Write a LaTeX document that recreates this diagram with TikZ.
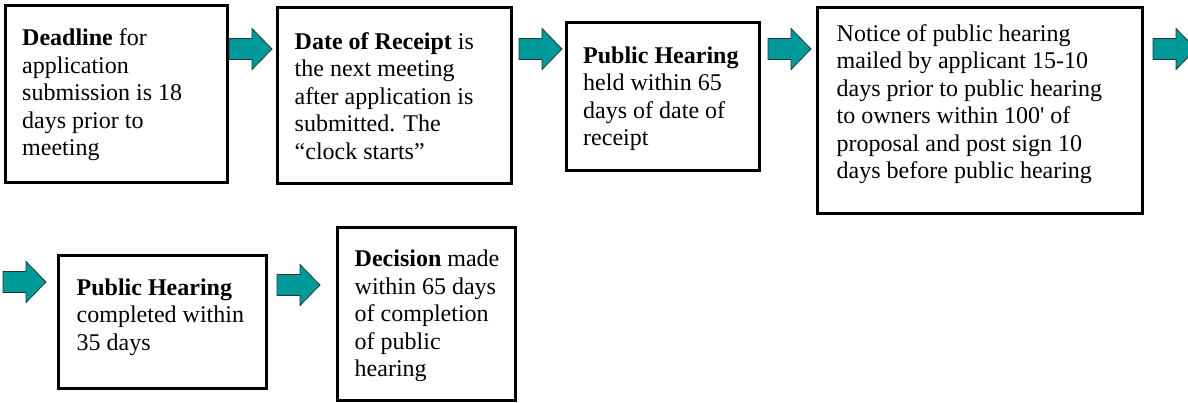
\documentclass[tikz,border=0pt]{standalone}
\usepackage{fontspec}
\setmainfont{Liberation Serif}
\definecolor{arrowfill}{RGB}{0,153,153}
\definecolor{arrowline}{RGB}{35,55,55}
\tikzset{
  box/.style={draw=black, line width=3pt, rectangle, inner sep=0pt, outer sep=0pt},
  txt/.style={align=left, inner sep=0pt, anchor=west,
    font=\fontsize{24}{27.5}\selectfont},
  blockarrow/.pic={
    \path[fill=arrowfill, draw=arrowline, line width=0.8pt, line join=miter]
      (0,-10.5) -- (23,-10.5) -- (23,-20.5) -- (43,0) -- (23,20.5)
      -- (23,10.5) -- (0,10.5) -- cycle;
  }
}
\begin{document}
\begin{tikzpicture}[x=1pt, y=-1pt]
  \useasboundingbox (0,0) rectangle (1188,402);
  \begin{scope}
    \clip (0,0) rectangle (1188,402);

    % first row of steps
    \node[box, minimum width=222pt, minimum height=177pt] (b1) at (116,93.5) {};
    \node[txt] (t1) at ([xshift=17pt,yshift=-1.7pt]b1.west)
      {\strut\textbf{Deadline} for\\application\\submission is 18\\days prior to\\meeting\strut};

    \node[box, minimum width=234pt, minimum height=176pt] (b2) at (394,95) {};
    \node[txt] (t2) at ([xshift=17.5pt,yshift=-3.8pt]b2.west)
      {\strut\textbf{Date of Receipt} is\\the next meeting\\after application is\\submitted. The\\“clock starts”\strut};

    \node[box, minimum width=193pt, minimum height=148pt] (b3) at (662.5,96) {};
    \node[txt] (t3) at ([xshift=17pt,yshift=-3pt]b3.west)
      {\strut\textbf{Public Hearing}\\held within 65\\days of date of\\receipt\strut};

    \node[box, minimum width=325pt, minimum height=206pt] (b4) at (979.5,110) {};
    \node[txt] (t4) at ([xshift=19.5pt,yshift=5.4pt]b4.west)
      {\strut Notice of public hearing\\mailed by applicant 15-10\\days prior to public hearing\\to owners within 100\textquotesingle{} of\\proposal and post sign 10\\days before public hearing\strut};

    % second row of steps
    \node[box, minimum width=208pt, minimum height=133pt] (b5) at (162,321.5) {};
    \node[txt] (t5) at ([xshift=18.5pt,yshift=4.5pt]b5.west)
      {\strut\textbf{Public Hearing}\\completed within\\35 days\strut};

    \node[box, minimum width=178pt, minimum height=173pt] (b6) at (426,313.5) {};
    \node[txt] (t6) at ([xshift=17.5pt,yshift=-2.7pt]b6.west)
      {\strut\textbf{Decision} made\\within 65 days\\of completion\\of public\\hearing\strut};

    % block arrows between the steps
    \pic (a1) at (229,49) {blockarrow};
    \pic (a2) at (519,49) {blockarrow};
    \pic (a3) at (768,49) {blockarrow};
    \pic (a4) at (1153,49) {blockarrow};
    \pic (a5) at (3,282) {blockarrow};
    \pic (a6) at (277,285) {blockarrow};
  \end{scope}
\end{tikzpicture}
\end{document}
